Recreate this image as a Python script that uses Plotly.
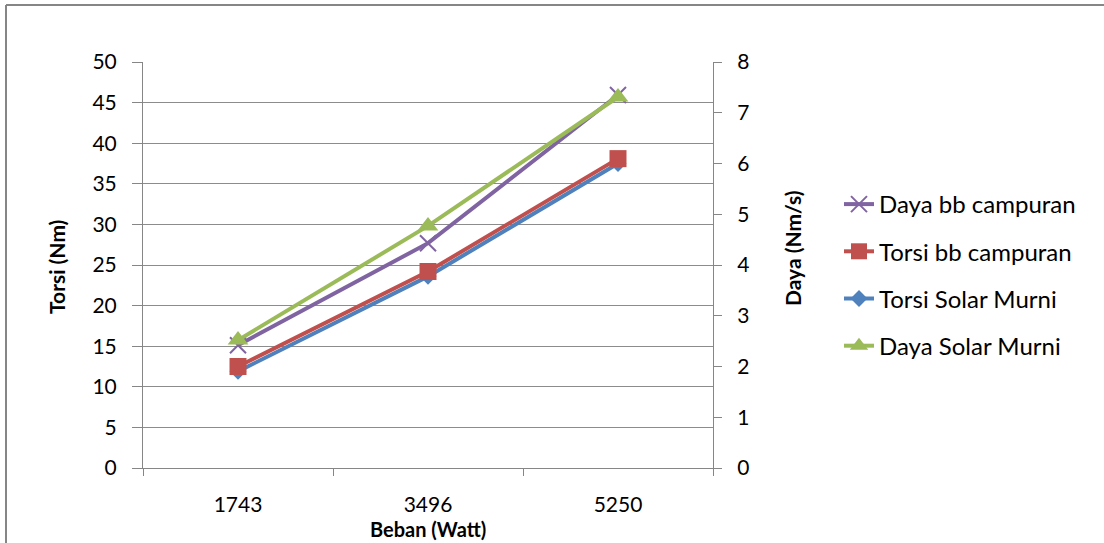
import plotly.graph_objects as go

beban = ["1743", "3496", "5250"]
torsi_solar = [11.9, 23.6, 37.5]
torsi_bb = [12.5, 24.2, 38.1]
daya_bb = [2.42, 4.43, 7.35]
daya_solar = [2.52, 4.77, 7.31]

FONT = "Lato"
L, R, T, B = 143, 713, 62, 468
W, H = 1104, 543

def px(x):
    return (x - L) / (R - L)

def py(y):
    return (B - y) / (B - T)

fig = go.Figure()
fig.add_trace(go.Scatter(x=beban, y=torsi_solar, name="Torsi Solar Murni", mode="lines+markers",
                         line=dict(color="#4F81BD", width=4),
                         marker=dict(symbol="diamond", size=13, color="#4F81BD"),
                         legendrank=3, legendgroup="c"))
fig.add_trace(go.Scatter(x=beban, y=torsi_bb, name="Torsi bb campuran", mode="lines+markers",
                         line=dict(color="#C0504D", width=4),
                         marker=dict(symbol="square", size=17, color="#C0504D"),
                         legendrank=2, legendgroup="b"))
fig.add_trace(go.Scatter(x=beban, y=daya_bb, name="Daya bb campuran", mode="lines+markers", yaxis="y2",
                         line=dict(color="#8064A2", width=4),
                         marker=dict(symbol="x-thin-open", size=16, color="#8064A2",
                                     line=dict(width=2, color="#8064A2")),
                         legendrank=1, legendgroup="a"))
fig.add_trace(go.Scatter(x=beban, y=daya_solar, name="Daya Solar Murni", mode="lines+markers", yaxis="y2",
                         line=dict(color="#9BBB59", width=4),
                         marker=dict(symbol="triangle-up", size=18, color="#9BBB59"),
                         legendrank=4, legendgroup="d"))

axis_col = "#868686"
fig.update_layout(
    width=W, height=H,
    margin=dict(l=L, r=W - R, t=T, b=H - B),
    paper_bgcolor="white", plot_bgcolor="white",
    font=dict(family=FONT, size=21, color="black"),
    showlegend=True,
    legend=dict(x=px(839), y=py(182), xanchor="left", yanchor="top",
                font=dict(size=24, family=FONT), tracegroupgap=13,
                bgcolor="rgba(0,0,0,0)", itemwidth=30),
    xaxis=dict(type="category", range=[-0.5, 2.5], showline=True, linecolor=axis_col, linewidth=1,
               ticks="outside", ticklen=7, tickcolor=axis_col, tickson="boundaries",
               showgrid=False, ticklabelstandoff=18, tickfont=dict(size=21)),
    yaxis=dict(range=[0, 50], dtick=5, showline=True, linecolor=axis_col, linewidth=1,
               ticks="outside", ticklen=10, tickcolor=axis_col,
               showgrid=True, gridcolor="#8C8C8C", gridwidth=1, zeroline=False,
               ticklabelstandoff=11, tickfont=dict(size=21)),
    yaxis2=dict(range=[0, 8], dtick=1, overlaying="y", side="right", showline=True,
                linecolor=axis_col, linewidth=1, ticks="outside", ticklen=8, tickcolor=axis_col,
                showgrid=False, zeroline=False, ticklabelstandoff=11, tickfont=dict(size=21)),
    annotations=[
        dict(text="<b>Torsi (Nm)</b>", x=px(56), y=py(267), xref="paper", yref="paper",
             xanchor="center", yanchor="middle",
             textangle=-90, showarrow=False, font=dict(size=21, family=FONT)),
        dict(text="<b>Daya (Nm/s)</b>", x=px(792), y=py(248), xref="paper", yref="paper",
             xanchor="center", yanchor="middle",
             textangle=-90, showarrow=False, font=dict(size=21, family=FONT)),
        dict(text="<b>Beban (Watt)</b>", x=px(428), y=py(529), xref="paper", yref="paper",
             xanchor="center", yanchor="middle",
             showarrow=False, font=dict(size=20, family=FONT)),
    ],
    shapes=[
        dict(type="line", xref="paper", yref="paper", x0=px(6), x1=px(1104), y0=py(5), y1=py(5),
             line=dict(color=axis_col, width=2)),
        dict(type="line", xref="paper", yref="paper", x0=px(6), x1=px(6), y0=py(5), y1=py(543),
             line=dict(color=axis_col, width=2)),
    ],
)

fig.write_html("out.html")
